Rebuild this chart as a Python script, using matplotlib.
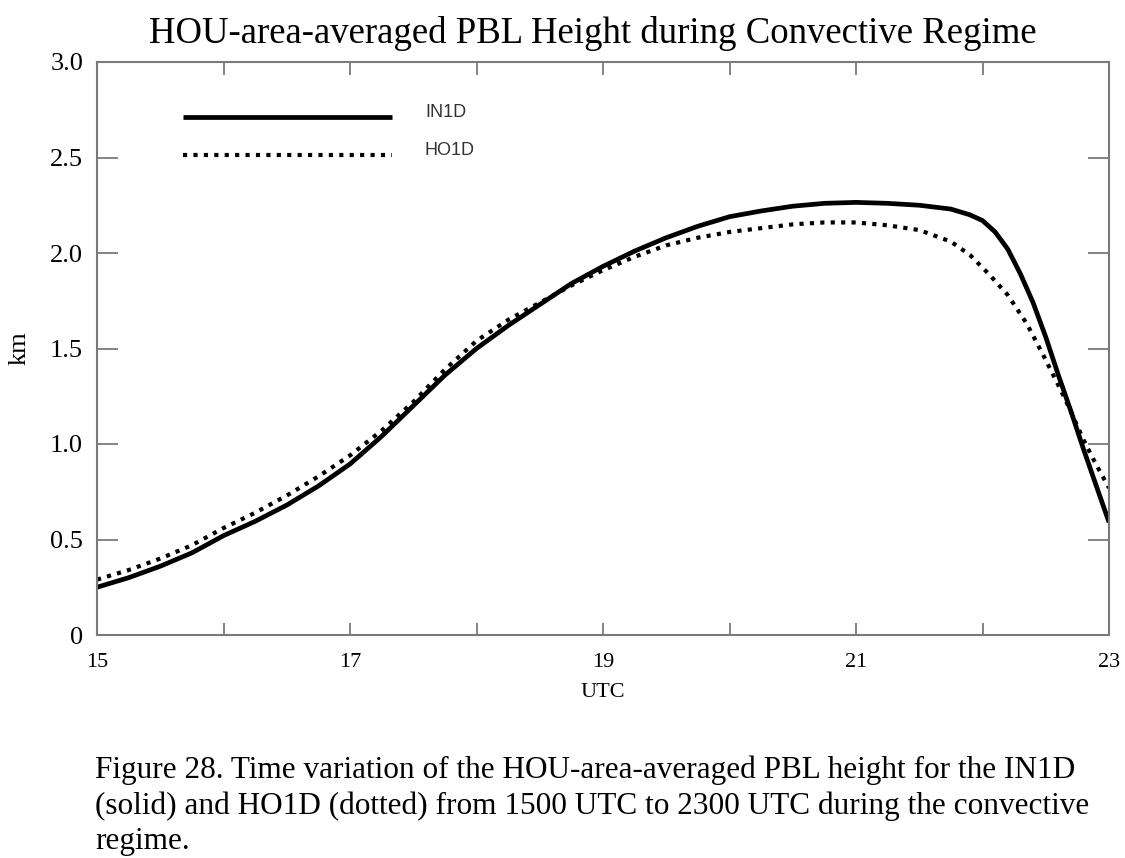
import matplotlib
matplotlib.use("Agg")
import matplotlib.pyplot as plt
from matplotlib.lines import Line2D

# PBL height (km) over the HOU area, 1500-2300 UTC
hours_in1d = [15.0, 15.25, 15.5, 15.75, 16.0, 16.25, 16.5, 16.75, 17.0, 17.25,
              17.5, 17.75, 18.0, 18.25, 18.5, 18.75, 19.0, 19.25, 19.5, 19.75,
              20.0, 20.25, 20.5, 20.75, 21.0, 21.25, 21.5, 21.75, 21.9, 22.0,
              22.1, 22.2, 22.3, 22.4, 22.5, 22.6, 22.7, 22.8, 22.9, 23.0]
pbl_in1d = [0.25, 0.30, 0.36, 0.43, 0.52, 0.595, 0.68, 0.78, 0.895, 1.04,
            1.20, 1.36, 1.50, 1.62, 1.73, 1.84, 1.93, 2.01, 2.08, 2.14,
            2.19, 2.22, 2.245, 2.26, 2.265, 2.26, 2.25, 2.23, 2.20, 2.17,
            2.11, 2.02, 1.89, 1.74, 1.56, 1.36, 1.17, 0.97, 0.78, 0.59]

hours_ho1d = [15.0, 15.25, 15.5, 15.75, 16.0, 16.25, 16.5, 16.75, 17.0, 17.25,
              17.5, 17.75, 18.0, 18.25, 18.5, 18.75, 19.0, 19.25, 19.5, 19.75,
              20.0, 20.25, 20.5, 20.75, 21.0, 21.25, 21.5, 21.75, 21.9, 22.05,
              22.2, 22.35, 22.5, 22.65, 22.8, 22.9, 23.0]
pbl_ho1d = [0.29, 0.34, 0.40, 0.47, 0.56, 0.64, 0.73, 0.83, 0.94, 1.07,
            1.22, 1.39, 1.54, 1.65, 1.74, 1.83, 1.91, 1.98, 2.04, 2.08,
            2.11, 2.13, 2.15, 2.16, 2.16, 2.145, 2.12, 2.06, 1.99, 1.89,
            1.78, 1.63, 1.44, 1.24, 1.02, 0.89, 0.77]

series_names = ["IN1D", "HO1D"]
x_ticks = [15, 16, 17, 18, 19, 20, 21, 22, 23]
x_ticklabels = ["15", "", "17", "", "19", "", "21", "", "23"]
y_ticks = [0, 0.5, 1.0, 1.5, 2.0, 2.5, 3.0]
y_ticklabels = ["0", "0.5", "1.0", "1.5", "2.0", "2.5", "3.0"]

title = "HOU-area-averaged PBL Height during Convective Regime"
caption_lines = [
    "Figure 28. Time variation of the HOU-area-averaged PBL height for the IN1D",
    "(solid) and HO1D (dotted) from 1500 UTC to 2300 UTC during the convective",
    "regime.",
]

serif = ["Liberation Serif", "DejaVu Serif"]
sans = ["Liberation Sans", "DejaVu Sans"]
spine_gray = "#7a7a7a"

fig = plt.figure(figsize=(11.25, 8.58), dpi=100)
fig.patch.set_facecolor("white")
ax = fig.add_axes([97 / 1125, 1 - 635 / 858, 1012 / 1125, 573 / 858])

dotted = (0, (1.0, 1.5))
ax.plot(hours_in1d, pbl_in1d, color="black", lw=3.4, solid_capstyle="butt",
        solid_joinstyle="round")
ax.plot(hours_ho1d, pbl_ho1d, color="black", lw=3.0, linestyle=dotted,
        dash_capstyle="butt")

ax.set_xlim(15, 23)
ax.set_ylim(0, 3.0)

ax.set_xticks(x_ticks)
ax.set_xticklabels(x_ticklabels, fontfamily=serif, fontsize=16)
ax.set_yticks(y_ticks)
ax.set_yticklabels(y_ticklabels, fontfamily=serif, fontsize=19)
ax.tick_params(axis="x", direction="in", length=9, width=1.3, color=spine_gray,
               top=True, bottom=True, pad=13)
ax.tick_params(axis="y", direction="in", length=15, width=1.3, color=spine_gray,
               left=True, right=True, pad=10)
for s in ax.spines.values():
    s.set_color(spine_gray)
    s.set_linewidth(1.5)

ax.set_xlabel("UTC", fontfamily=serif, fontsize=16, labelpad=8)
ax.set_ylabel("km", fontfamily=serif, fontsize=19, labelpad=14)
ax.set_title(title, fontfamily=serif, fontsize=26.5, pad=14, x=0.49)

# Legend keys drawn inside the axes
key_x0, key_x1 = (183 - 97) / 1012, (392 - 97) / 1012
for key_y, style, lw, name in [((635 - 117) / 573, "-", 3.4, series_names[0]),
                               ((635 - 155) / 573, dotted, 3.0, series_names[1])]:
    ax.add_line(Line2D([key_x0, key_x1], [key_y, key_y], transform=ax.transAxes,
                       color="black", lw=lw, linestyle=style,
                       solid_capstyle="butt", dash_capstyle="butt"))
    ax.text((425 - 97) / 1012, key_y + 0.008, name, transform=ax.transAxes,
            fontfamily=sans, fontsize=13, color="#333333", va="center", ha="left")

for i, line in enumerate(caption_lines):
    fig.text(95 / 1125, 1 - (770 + 36 * i) / 858, line, fontfamily=serif,
             fontsize=22.5, va="center", ha="left")

fig.savefig("out.png", dpi=100, facecolor="white")
